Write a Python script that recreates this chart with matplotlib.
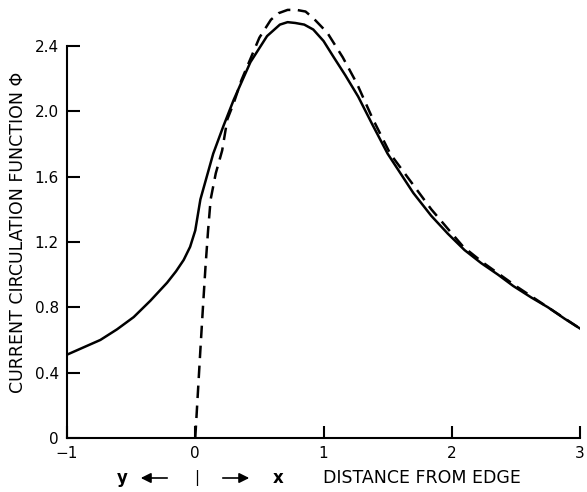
import matplotlib
matplotlib.use("Agg")
import matplotlib.pyplot as plt

# Solid curve
solid_x = [-1.0, -0.87, -0.74, -0.61, -0.48, -0.35, -0.22, -0.15, -0.09, -0.04, 0.0, 0.04,
           0.09, 0.14, 0.22, 0.30, 0.43, 0.56, 0.66, 0.72, 0.78, 0.85, 0.92, 1.00,
           1.08, 1.17, 1.27, 1.38, 1.50, 1.60, 1.70, 1.84, 1.97, 2.10, 2.23, 2.36,
           2.48, 2.62, 2.75, 2.88, 3.0]
solid_y = [0.51, 0.555, 0.60, 0.665, 0.74, 0.84, 0.95, 1.02, 1.09, 1.17, 1.27, 1.46,
           1.60, 1.74, 1.91, 2.07, 2.30, 2.46, 2.53, 2.545, 2.54, 2.53, 2.50, 2.43,
           2.33, 2.22, 2.09, 1.92, 1.74, 1.62, 1.50, 1.36, 1.25, 1.15, 1.07, 1.00,
           0.93, 0.86, 0.80, 0.73, 0.67]

# Dashed curve
dash_x = [0.0, 0.02, 0.04, 0.06, 0.08, 0.10, 0.12, 0.16, 0.21, 0.25, 0.30, 0.36, 0.43,
          0.50, 0.59, 0.65, 0.72, 0.79, 0.86, 0.92, 1.03, 1.15, 1.26, 1.38, 1.52,
          1.68, 1.84, 1.97, 2.09, 2.25, 2.50, 2.75, 3.0]
dash_y = [0.0, 0.27, 0.54, 0.80, 1.05, 1.27, 1.46, 1.62, 1.76, 1.95, 2.05, 2.19, 2.32,
          2.45, 2.56, 2.60, 2.62, 2.62, 2.61, 2.57, 2.48, 2.33, 2.17, 1.96, 1.74,
          1.57, 1.40, 1.28, 1.17, 1.07, 0.93, 0.80, 0.67]

x_ticks = [-1, 0, 1, 2, 3]
x_ticklabels = ["\u22121", "0", "1", "2", "3"]
y_ticks = [0, 0.4, 0.8, 1.2, 1.6, 2.0, 2.4]
y_ticklabels = ["0", "0.4", "0.8", "1.2", "1.6", "2.0", "2.4"]

fig = plt.figure(figsize=(5.87, 4.92), dpi=100)
ax = fig.add_axes([67/587, 54/492, (580-67)/587, (487-54)/492])

ax.plot(solid_x, solid_y, color="black", lw=1.8, solid_joinstyle="round")
ax.plot(dash_x, dash_y, color="black", lw=1.8, linestyle=(0, (5, 3)))

ax.set_xlim(-1, 3)
ax.set_ylim(0, 2.65)
ax.spines["top"].set_visible(False)
ax.spines["right"].set_visible(False)
ax.spines["left"].set_bounds(0, 2.4)
ax.spines["left"].set_linewidth(1.5)
ax.spines["bottom"].set_linewidth(1.5)

ax.set_xticks(x_ticks)
ax.set_xticklabels(x_ticklabels, fontsize=11)
ax.set_yticks(y_ticks)
ax.set_yticklabels(y_ticklabels, fontsize=11)
ax.tick_params(axis="both", direction="in", length=9, width=1.5, pad=6)

ax.set_ylabel("CURRENT CIRCULATION FUNCTION \u03a6", fontsize=12.5)
ax.yaxis.set_label_coords((27 - 67) / 513, (492 - 232 - 54) / 433)

# bottom annotation
yb = 1 - 478/492
fig.text(122/587, yb, "y", ha="center", va="center", fontsize=12, weight="bold")
fig.text(197/587, yb, "|", ha="center", va="center", fontsize=11)
fig.text(278/587, yb, "x", ha="center", va="center", fontsize=12, weight="bold")
fig.text(422/587, yb, "DISTANCE FROM EDGE", ha="center", va="center", fontsize=12.5)
fig.patches.append(matplotlib.patches.FancyArrowPatch(
    (170/587, yb), (138/587, yb), transform=fig.transFigure,
    arrowstyle="-|>,head_length=6,head_width=3", color="black", lw=1.2))
fig.patches.append(matplotlib.patches.FancyArrowPatch(
    (220/587, yb), (252/587, yb), transform=fig.transFigure,
    arrowstyle="-|>,head_length=6,head_width=3", color="black", lw=1.2))

fig.savefig("out.png", dpi=100)
